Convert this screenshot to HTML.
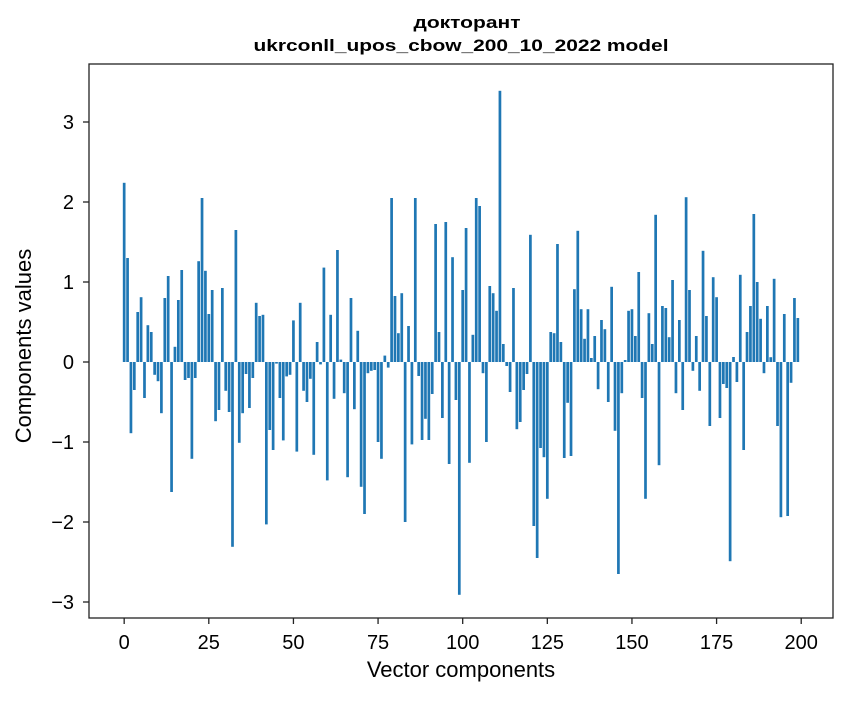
<!DOCTYPE html>
<html><head><meta charset="utf-8"><style>
body{margin:0;background:#fff;}
svg text{font-family:"Liberation Sans","DejaVu Sans",sans-serif;fill:#000;}
</style></head><body>
<svg id="chart" width="847" height="696" xmlns="http://www.w3.org/2000/svg">
<rect x="0" y="0" width="847" height="696" fill="#fff"/>
<text x="467" y="28" text-anchor="middle" font-size="17" font-weight="bold" textLength="107" lengthAdjust="spacingAndGlyphs">докторант</text>
<text x="461" y="51" text-anchor="middle" font-size="17" font-weight="bold" textLength="415" lengthAdjust="spacingAndGlyphs">ukrconll_upos_cbow_200_10_2022 model</text>
<g id="bars"></g>
<g id="axes"></g>
<text x="461" y="677" text-anchor="middle" font-size="22">Vector components</text>
<text transform="translate(31,346) rotate(-90)" text-anchor="middle" font-size="22">Components values</text>
</svg>
<script>
const values = [2.24,1.3,-0.89,-0.35,0.625,0.81,-0.45,0.46,0.375,-0.16,-0.24,-0.64,0.8,1.075,-1.625,0.19,0.775,1.15,-0.225,-0.2,
-1.21,-0.2,1.26,2.05,1.14,0.6,0.9,-0.74,-0.6,0.925,-0.36,-0.625,-2.31,1.65,-1.01,-0.64,-0.15,-0.575,-0.2,0.74,
0.575,0.59,-2.03,-0.85,-1.1,-0.02,-0.45,-0.98,-0.18,-0.16,0.52,-1.12,0.74,-0.36,-0.5,-0.21,-1.16,0.25,-0.03,1.18,
-1.48,0.59,-0.46,1.4,0.03,-0.39,-1.44,0.8,-0.59,0.39,-1.56,-1.9,-0.14,-0.11,-0.1,-1.0,-1.21,0.08,-0.07,2.05,
0.825,0.36,0.86,-2.0,0.45,-1.03,2.05,-0.175,-0.975,-0.71,-0.975,-0.4,1.725,0.375,-0.7,1.75,-1.275,1.31,-0.475,-2.91,
0.9,1.675,-1.26,0.34,2.05,1.95,-0.14,-1.0,0.95,0.86,0.64,3.39,0.225,-0.05,-0.375,0.925,-0.84,-0.75,-0.35,-0.15,
1.59,-2.05,-2.45,-1.075,-1.19,-1.71,0.375,0.36,1.475,0.25,-1.2,-0.51,-1.175,0.91,1.64,0.66,0.29,0.66,0.05,0.325,
-0.34,0.525,0.41,-0.5,0.94,-0.86,-2.65,-0.39,0.025,0.64,0.66,0.325,1.125,-0.45,-1.71,0.61,0.225,1.84,-1.29,0.7,
0.675,0.31,1.025,-0.39,0.525,-0.6,2.06,0.9,-0.11,0.325,-0.36,1.39,0.575,-0.8,1.06,0.81,-0.7,-0.275,-0.325,-2.49,
0.0625,-0.25,1.09,-1.1,0.375,0.7,1.85,1.0,0.54,-0.14,0.7,0.06,1.04,-0.8,-1.94,0.6,-1.925,-0.26,0.8,0.55];
const xTicks = [0,25,50,75,100,125,150,175,200];
const yTicks = [-3,-2,-1,0,1,2,3];

const L=89,R=833,T=64,B=618;
const xMin=-10.39,xMax=209.39,yMin=-3.2,yMax=3.725;
const sx=v=>L+(v-xMin)/(xMax-xMin)*(R-L);
const sy=v=>T+(yMax-v)/(yMax-yMin)*(B-T);
const NS="http://www.w3.org/2000/svg";
const bars=document.getElementById('bars');
values.forEach((v,i)=>{
  const r=document.createElementNS(NS,'rect');
  const x0=sx(i-0.4),x1=sx(i+0.4);
  const y0=sy(Math.max(v,0)),y1=sy(Math.min(v,0));
  r.setAttribute('x',x0);r.setAttribute('width',x1-x0);
  r.setAttribute('y',y0);r.setAttribute('height',Math.max(y1-y0,0.3));
  r.setAttribute('fill','#1f77b4');
  
  
  bars.appendChild(r);
});
const axes=document.getElementById('axes');
const frame=document.createElementNS(NS,'rect');
frame.setAttribute('x',L);frame.setAttribute('y',T);frame.setAttribute('width',R-L);frame.setAttribute('height',B-T);
frame.setAttribute('fill','none');frame.setAttribute('stroke','#222');frame.setAttribute('stroke-width','1.3');


axes.appendChild(frame);
xTicks.forEach(t=>{
  const x=sx(t);
  const l=document.createElementNS(NS,'line');
  l.setAttribute('x1',x);l.setAttribute('x2',x);l.setAttribute('y1',B);l.setAttribute('y2',B+6);l.setAttribute('stroke','#222');l.setAttribute('stroke-width','1.3');
  
  
  axes.appendChild(l);
  const tx=document.createElementNS(NS,'text');
  tx.setAttribute('x',x);tx.setAttribute('y',B+31);tx.setAttribute('text-anchor','middle');tx.setAttribute('font-size','20');
  tx.textContent=t;
  
  
  axes.appendChild(tx);
});
yTicks.forEach(t=>{
  const y=sy(t);
  const l=document.createElementNS(NS,'line');
  l.setAttribute('x1',L-6);l.setAttribute('x2',L);l.setAttribute('y1',y);l.setAttribute('y2',y);l.setAttribute('stroke','#222');l.setAttribute('stroke-width','1.3');
  
  
  axes.appendChild(l);
  const tx=document.createElementNS(NS,'text');
  tx.setAttribute('x',L-15);tx.setAttribute('y',y+7);tx.setAttribute('text-anchor','end');tx.setAttribute('font-size','20');
  tx.textContent=(t<0?'\u2212':'')+Math.abs(t);
  
  
  axes.appendChild(tx);
});
</script>
</body></html>
